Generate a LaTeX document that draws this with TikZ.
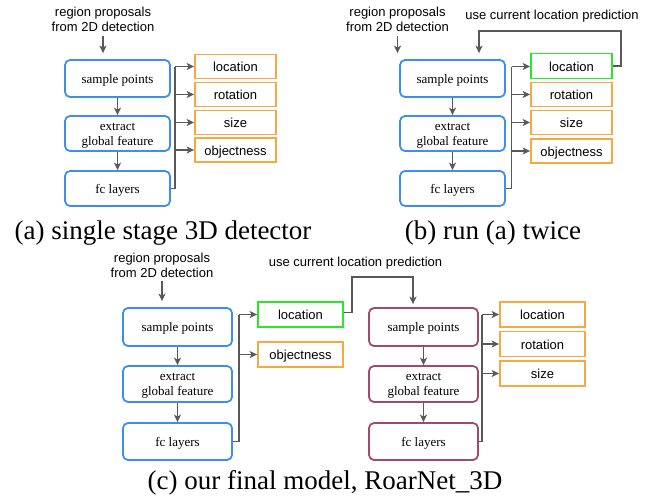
\documentclass[tikz,border=0pt]{standalone}
\usepackage{fontspec}
\setmainfont{Liberation Serif}
\setsansfont{Liberation Sans}
\usetikzlibrary{arrows.meta}
\definecolor{cblue}{RGB}{61,142,240}
\definecolor{corange}{RGB}{247,168,65}
\definecolor{cgreen}{RGB}{40,232,40}
\definecolor{cmaroon}{RGB}{164,72,112}
\definecolor{cgray}{RGB}{88,88,88}
\tikzset{
  blk/.style={draw=cblue, line width=1.8pt, rounded corners=5pt, align=center,
    font=\rmfamily\fontsize{13}{15}\selectfont, inner sep=0pt, text height=11pt, text depth=2pt},
  blk2/.style={blk, text height=25pt, text depth=2pt},
  mblk/.style={blk, draw=cmaroon},
  mblk2/.style={blk2, draw=cmaroon},
  outbox/.style={draw=corange, line width=1.8pt,
    font=\sffamily\fontsize{13}{15}\selectfont, inner sep=0pt, text height=11.5pt, text depth=1.5pt},
  gbox/.style={outbox, draw=cgreen},
  lbl/.style={align=center, font=\sffamily\fontsize{13}{15}\selectfont, inner sep=0pt},
  captxt/.style={font=\rmfamily\fontsize{27}{29}\selectfont, inner sep=0pt},
  arr/.style={draw=cgray, line width=1.4pt, -{Stealth[length=7.5pt,width=7pt,inset=2pt]}},
  bus/.style={draw=cgray, line width=1.9pt},
}
\begin{document}
\begin{tikzpicture}[x=1pt,y=-1pt]
\useasboundingbox (0,0) rectangle (655,501);

% ---------------- (a)
\node[lbl] (rp1) at (103,19.5) {region proposals\\from 2D detection};
\node[blk, minimum width=105pt, minimum height=37pt] (sp1) at (117.5,78.5) {sample points};
\node[blk2, minimum width=105pt, minimum height=35pt] (ex1) at (117.5,133.5) {extract\\global feature};
\node[blk, minimum width=105pt, minimum height=35pt] (fc1) at (117.5,188.5) {fc layers};
\node[outbox, minimum width=81pt, minimum height=24pt] (loc1) at (235.5,66.5) {location};
\node[outbox, minimum width=81pt, minimum height=24pt] (rot1) at (235.5,94.5) {rotation};
\node[outbox, minimum width=81pt, minimum height=24pt] (siz1) at (235.5,122.5) {size};
\node[outbox, minimum width=81pt, minimum height=24pt] (obj1) at (235.5,150) {objectness};
\coordinate (b1) at (175,66.5);
\draw[arr, shorten <=4pt, shorten >=6pt] (rp1.south) -- (rp1.south |- sp1.north);
\draw[arr] (sp1) -- (ex1);
\draw[arr] (ex1) -- (fc1);
\draw[bus] (fc1.east) -- (fc1.east -| b1) -- (b1);
\draw[arr] (b1) -- (loc1.west);
\draw[arr] (b1 |- rot1.west) -- (rot1.west);
\draw[arr] (b1 |- siz1.west) -- (siz1.west);
\draw[arr] (b1 |- obj1.west) -- (obj1.west);
\node[captxt] (capa) at (163,233) {(a) single stage 3D detector};

% ---------------- (b)
\node[lbl] (rp2) at (397.5,19.5) {region proposals\\from 2D detection};
\node[lbl] (uc2) at (552,16) {use current location prediction};
\node[blk, minimum width=105pt, minimum height=37pt] (sp2) at (452.5,78.5) {sample points};
\node[blk2, minimum width=105pt, minimum height=35pt] (ex2) at (452.5,133.5) {extract\\global feature};
\node[blk, minimum width=105pt, minimum height=35pt] (fc2) at (452.5,188.5) {fc layers};
\node[gbox, minimum width=81pt, minimum height=25pt] (loc2) at (571.5,66) {location};
\node[outbox, minimum width=81pt, minimum height=24pt] (rot2) at (571.5,94.5) {rotation};
\node[outbox, minimum width=81pt, minimum height=24pt] (siz2) at (571.5,122.5) {size};
\node[outbox, minimum width=81pt, minimum height=24pt] (obj2) at (571.5,151) {objectness};
\coordinate (b2) at (511.5,66.5);
\coordinate (fb2) at (479,31);
\draw[arr, shorten <=4pt, shorten >=6pt] (rp2.south) -- (rp2.south |- sp2.north);
\draw[arr] (sp2) -- (ex2);
\draw[arr] (ex2) -- (fc2);
\draw[bus] (fc2.east) -- (fc2.east -| b2) -- (b2);
\draw[arr] (b2) -- (b2 -| loc2.west);
\draw[arr] (b2 |- rot2.west) -- (rot2.west);
\draw[arr] (b2 |- siz2.west) -- (siz2.west);
\draw[arr] (b2 |- obj2.west) -- (obj2.west);
\draw[arr, line width=1.9pt, shorten >=6pt] (loc2.east) -- ++(8,0) |- (fb2) -- (fb2 |- sp2.north);
\node[captxt] (capb) at (493,233) {(b) run (a) twice};

% ---------------- (c)
\node[lbl] (rp3) at (162,265) {region proposals\\from 2D detection};
\node[lbl] (uc3) at (355.5,263) {use current location prediction};
\node[blk, minimum width=109pt, minimum height=38pt] (sp3) at (177.5,327) {sample points};
\node[blk2, minimum width=109pt, minimum height=36pt] (ex3) at (177.5,384) {extract\\global feature};
\node[blk, minimum width=109pt, minimum height=37pt] (fc3) at (177.5,441.5) {fc layers};
\node[gbox, minimum width=85pt, minimum height=25pt] (loc3) at (300.5,314.5) {location};
\node[outbox, minimum width=85pt, minimum height=25pt] (obj3) at (300.5,354.5) {objectness};
\coordinate (b3) at (239,314.5);
\coordinate (fb3) at (413,277);
\draw[arr, shorten <=4pt, shorten >=6pt] (rp3.south) -- (rp3.south |- sp3.north);
\draw[arr] (sp3) -- (ex3);
\draw[arr] (ex3) -- (fc3);
\draw[bus] (fc3.east) -- (fc3.east -| b3) -- (b3);
\draw[arr] (b3) -- (loc3.west);
\draw[arr] (b3 |- obj3.west) -- (obj3.west);

\node[mblk, minimum width=109pt, minimum height=38pt] (sp4) at (423.5,327) {sample points};
\node[mblk2, minimum width=109pt, minimum height=36pt] (ex4) at (423.5,384) {extract\\global feature};
\node[mblk, minimum width=109pt, minimum height=37pt] (fc4) at (423.5,441.5) {fc layers};
\node[outbox, minimum width=85pt, minimum height=25pt] (loc4) at (542.5,314.5) {location};
\node[outbox, minimum width=85pt, minimum height=25pt] (rot4) at (542.5,344) {rotation};
\node[outbox, minimum width=85pt, minimum height=25pt] (siz4) at (542.5,373.5) {size};
\coordinate (b4) at (482,314.5);
\draw[arr, line width=1.9pt, shorten >=3pt] ([yshift=2pt]loc3.east) -- ++(8,0) |- (fb3) -- (fb3 |- sp4.north);
\draw[arr] (sp4) -- (ex4);
\draw[arr] (ex4) -- (fc4);
\draw[bus] (fc4.east) -- (fc4.east -| b4) -- (b4);
\draw[arr] (b4) -- (loc4.west);
\draw[arr] (b4 |- rot4.west) -- (rot4.west);
\draw[arr] (b4 |- siz4.west) -- (siz4.west);
\node[captxt] (capc) at (325,483) {(c) our final model, RoarNet\_3D};
\end{tikzpicture}
\end{document}
